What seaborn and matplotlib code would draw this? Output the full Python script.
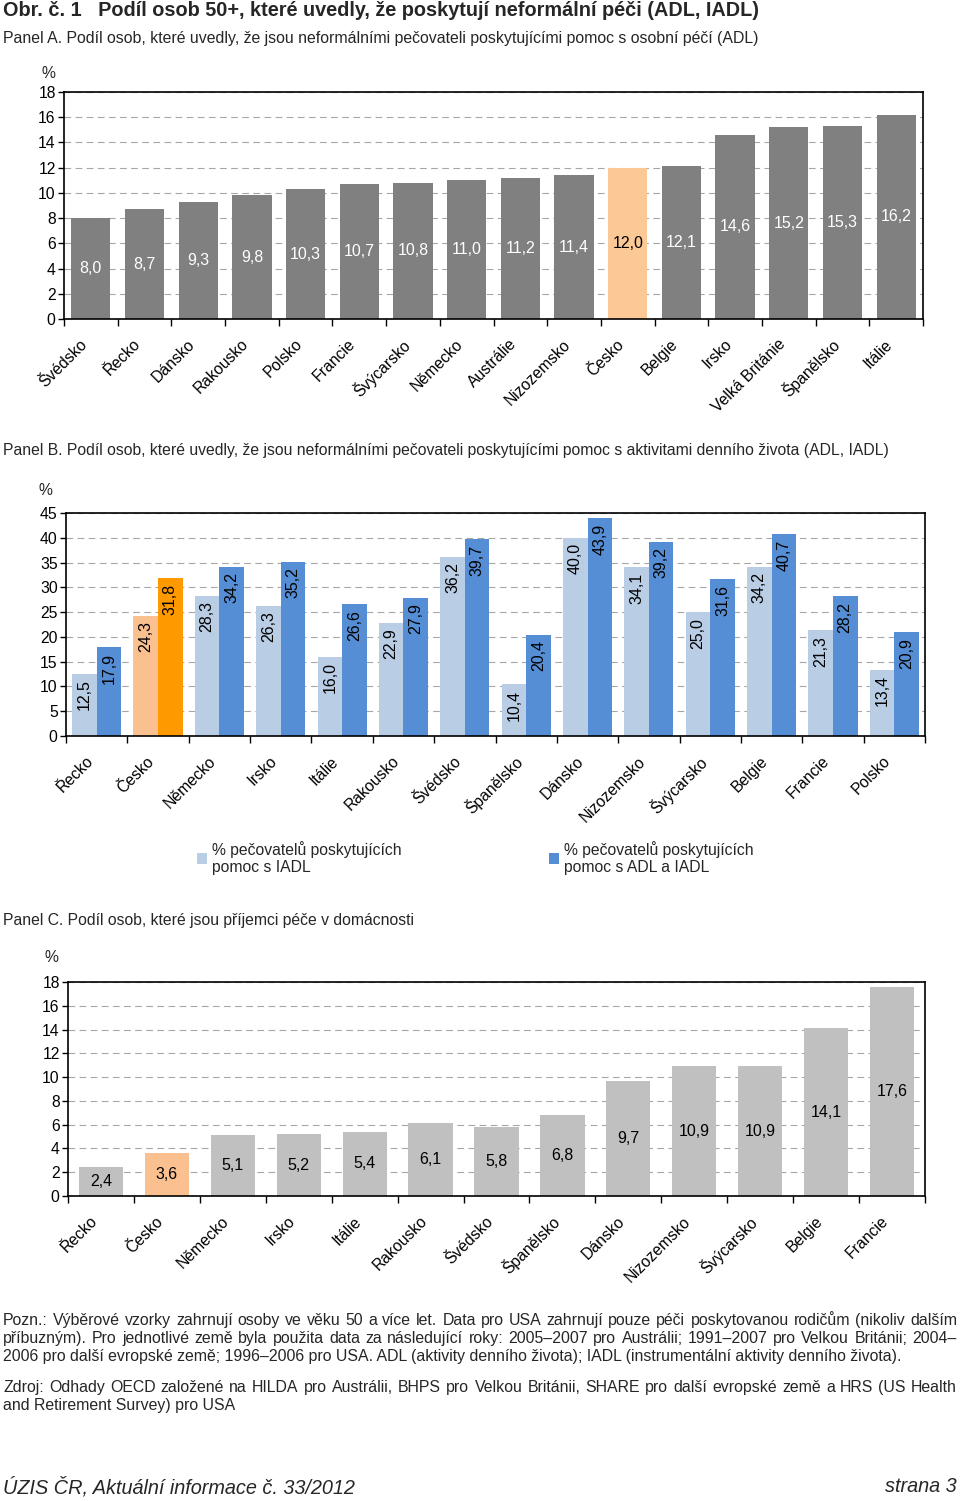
import numpy as np
import pandas as pd
import matplotlib
matplotlib.use("Agg")
import matplotlib.pyplot as plt
import matplotlib.transforms as mtransforms
import seaborn as sns
from matplotlib.ticker import MultipleLocator

# ---------------- data ----------------
a_countries = ["Švédsko", "Řecko", "Dánsko", "Rakousko", "Polsko", "Francie", "Švýcarsko",
               "Německo", "Austrálie", "Nizozemsko", "Česko", "Belgie", "Irsko",
               "Velká Británie", "Španělsko", "Itálie"]
a_values = [8.0, 8.7, 9.3, 9.8, 10.3, 10.7, 10.8, 11.0, 11.2, 11.4, 12.0, 12.1, 14.6, 15.2, 15.3, 16.2]

b_countries = ["Řecko", "Česko", "Německo", "Irsko", "Itálie", "Rakousko", "Švédsko",
               "Španělsko", "Dánsko", "Nizozemsko", "Švýcarsko", "Belgie", "Francie", "Polsko"]
b_iadl = [12.5, 24.3, 28.3, 26.3, 16.0, 22.9, 36.2, 10.4, 40.0, 34.1, 25.0, 34.2, 21.3, 13.4]
b_adl = [17.9, 31.8, 34.2, 35.2, 26.6, 27.9, 39.7, 20.4, 43.9, 39.2, 31.6, 40.7, 28.2, 20.9]
b_series = ["% pečovatelů poskytujících\npomoc s IADL", "% pečovatelů poskytujících\npomoc s ADL a IADL"]

c_countries = ["Řecko", "Česko", "Německo", "Irsko", "Itálie", "Rakousko", "Švédsko",
               "Španělsko", "Dánsko", "Nizozemsko", "Švýcarsko", "Belgie", "Francie"]
c_values = [2.4, 3.6, 5.1, 5.2, 5.4, 6.1, 5.8, 6.8, 9.7, 10.9, 10.9, 14.1, 17.6]

title = "Obr. č. 1   Podíl osob 50+, které uvedly, že poskytují neformální péči (ADL, IADL)"
head_a = "Panel A. Podíl osob, které uvedly, že jsou neformálními pečovateli poskytujícími pomoc s osobní péčí (ADL)"
head_b = "Panel B. Podíl osob, které uvedly, že jsou neformálními pečovateli poskytujícími pomoc s aktivitami denního života (ADL, IADL)"
head_c = "Panel C. Podíl osob, které jsou příjemci péče v domácnosti"
notes = ["Pozn.: Výběrové vzorky zahrnují osoby ve věku 50 a více let. Data pro USA zahrnují pouze péči poskytovanou rodičům (nikoliv dalším",
         "příbuzným). Pro jednotlivé země byla použita data za následující roky: 2005–2007 pro Austrálii; 1991–2007 pro Velkou Británii; 2004–",
         "2006 pro další evropské země; 1996–2006 pro USA. ADL (aktivity denního života); IADL (instrumentální aktivity denního života)."]
source = ["Zdroj: Odhady OECD založené na HILDA pro Austrálii, BHPS pro Velkou Británii, SHARE pro další evropské země a HRS (US Health",
          "and Retirement Survey) pro USA"]
footer_l = "ÚZIS ČR, Aktuální informace č. 33/2012"
footer_r = "strana 3"

# ---------------- style ----------------
sns.set_theme(style="white")
plt.rcParams['font.family'] = ['Liberation Sans', 'DejaVu Sans']
FS = 11.3

W, H = 960, 1501
fig = plt.figure(figsize=(W / 100, H / 100), dpi=100)
renderer = fig.canvas.get_renderer()


def px_axes(l, t, r, b):
    return fig.add_axes([l / W, 1 - b / H, (r - l) / W, (b - t) / H])


def ftext(x, y, s, **kw):
    kw.setdefault('va', 'center')
    return fig.text(x / W, 1 - y / H, s, **kw)


def text_width(s, size, **kw):
    t = fig.text(0, 0, s, fontsize=size, **kw)
    w = t.get_window_extent(renderer).width
    t.remove()
    return w


def fit_size(s, target, base=12, **kw):
    return base * target / text_width(s, base, **kw)


def justified(x0, x1, y, s, size):
    words = s.split(' ')
    widths = [text_width(w, size) for w in words]
    gap = (x1 - x0 - sum(widths)) / (len(words) - 1)
    x = x0
    for w, wd in zip(words, widths):
        ftext(x, y, w, fontsize=size, va='baseline')
        x += wd + gap


def fmt(v):
    return f"{v:.1f}".replace('.', ',')


label_shift = mtransforms.ScaledTranslation(-6 / 100, -2 / 100, fig.dpi_scale_trans)


def style(ax, ymax, step, n):
    ax.set_xlim(-0.5, n - 0.5)
    ax.set_ylim(0, ymax)
    ax.yaxis.set_major_locator(MultipleLocator(step))
    ax.set_axisbelow(True)
    ax.yaxis.grid(True, color='#A6A6A6', linestyle=(0, (6, 4)), linewidth=0.8)
    ax.xaxis.grid(False)
    for s in ax.spines.values():
        s.set_visible(True)
        s.set_color('black')
        s.set_linewidth(1.2)
    ax.tick_params(axis='y', which='major', direction='out', length=4, width=1.0,
                   color='black', labelsize=FS, pad=2, left=True, labelcolor='black')
    ax.set_xticks(np.arange(-0.5, n, 1.0), minor=True)
    ax.tick_params(axis='x', which='minor', direction='out', length=5, width=1.0,
                   color='black', bottom=True)
    ax.tick_params(axis='x', which='major', length=0, labelsize=FS, pad=15,
                   bottom=True, labelcolor='black')
    for lab in ax.get_xticklabels():
        lab.set_rotation(45)
        lab.set_ha('right')
        lab.set_va('center')
        lab.set_rotation_mode('anchor')
        lab.set_transform(lab.get_transform() + label_shift)
    ax.set_xlabel('')
    ax.set_ylabel('')


# ---------------- texts ----------------
ftext(3, 11, title, fontsize=fit_size(title, 755, fontweight='bold'), fontweight='bold')
ftext(3, 38, head_a, fontsize=fit_size(head_a, 755))
ftext(3, 451, head_b, fontsize=FS)
ftext(3, 920, head_c, fontsize=FS)

note_fs = min(fit_size(notes[2], 897), fit_size(notes[0], 954), fit_size(notes[1], 954),
              fit_size(source[0], 954))
BL = 4  # baseline offset below the line centre, px
justified(3, 957, 1321 + BL, notes[0], note_fs)
justified(3, 957, 1339 + BL, notes[1], note_fs)
ftext(3, 1357 + BL, notes[2], fontsize=note_fs, va='baseline')
justified(3, 957, 1388 + BL, source[0], note_fs)
ftext(3, 1406 + BL, source[1], fontsize=note_fs, va='baseline')
foot_fs = fit_size(footer_l, 352, style='italic')
ftext(3, 1487, footer_l, fontsize=foot_fs, style='italic')
ftext(957, 1487, footer_r, fontsize=foot_fs, style='italic', ha='right')

# ---------------- Panel A ----------------
axA = px_axes(64, 92, 923, 319)
dfA = pd.DataFrame({'country': a_countries, 'value': a_values})
palA = {c: ('#FBC896' if c == 'Česko' else '#808080') for c in a_countries}
sns.barplot(data=dfA, x='country', y='value', hue='country', palette=palA, order=a_countries,
            hue_order=a_countries, legend=False, width=0.73, linewidth=0, errorbar=None,
            saturation=1, ax=axA)
style(axA, 18, 2, len(a_countries))
for cont in axA.containers:
    for bar in cont:
        h = bar.get_height()
        if np.isnan(h) or h == 0:
            continue
        xc = bar.get_x() + bar.get_width() / 2
        name = a_countries[int(round(xc))]
        axA.text(xc, h / 2, fmt(h), ha='center', va='center', fontsize=11.5,
                 color=('black' if name == 'Česko' else 'white'))
ftext(48, 74, '%', fontsize=FS, ha='center')

# ---------------- Panel B ----------------
axB = px_axes(66, 513, 925, 736)
dfB = pd.DataFrame({'country': b_countries * 2, 'value': b_iadl + b_adl,
                    'series': [b_series[0]] * len(b_countries) + [b_series[1]] * len(b_countries)})
sns.barplot(data=dfB, x='country', y='value', hue='series', hue_order=b_series, order=b_countries,
            palette=['#B9CDE5', '#558ED5'], width=0.8, gap=0, linewidth=0, errorbar=None,
            saturation=1, ax=axB)
style(axB, 45, 5, len(b_countries))
cz = b_countries.index('Česko')
for k, col in enumerate(['#FAC090', '#FF9900']):
    axB.containers[k][cz].set_facecolor(col)
for cont in axB.containers:
    for bar in cont:
        h = bar.get_height()
        xc = bar.get_x() + bar.get_width() / 2
        axB.annotate(fmt(h), (xc, h), xytext=(0, -4), textcoords='offset points',
                     rotation=90, ha='center', va='top', fontsize=11.5, color='black')
sns.move_legend(axB, 'upper left', bbox_to_anchor=((197 - 66) / 859, (736 - 841) / 223),
                ncol=2, frameon=False, title=None, fontsize=FS, handlelength=0.65,
                handleheight=0.65, handletextpad=0.3, columnspacing=9.4, borderpad=0,
                borderaxespad=0, labelspacing=0)
ftext(45, 490, '%', fontsize=FS, ha='center')

# ---------------- Panel C ----------------
axC = px_axes(68, 982, 925, 1196)
dfC = pd.DataFrame({'country': c_countries, 'value': c_values})
palC = {c: ('#FAC090' if c == 'Česko' else '#C0C0C0') for c in c_countries}
sns.barplot(data=dfC, x='country', y='value', hue='country', palette=palC, order=c_countries,
            hue_order=c_countries, legend=False, width=0.67, linewidth=0, errorbar=None,
            saturation=1, ax=axC)
style(axC, 18, 2, len(c_countries))
for cont in axC.containers:
    for bar in cont:
        h = bar.get_height()
        if np.isnan(h) or h == 0:
            continue
        xc = bar.get_x() + bar.get_width() / 2
        axC.text(xc, h / 2, fmt(h), ha='center', va='center', fontsize=11.5, color='black')
ftext(51, 957, '%', fontsize=FS, ha='center')

fig.savefig('out.png', dpi=100)
